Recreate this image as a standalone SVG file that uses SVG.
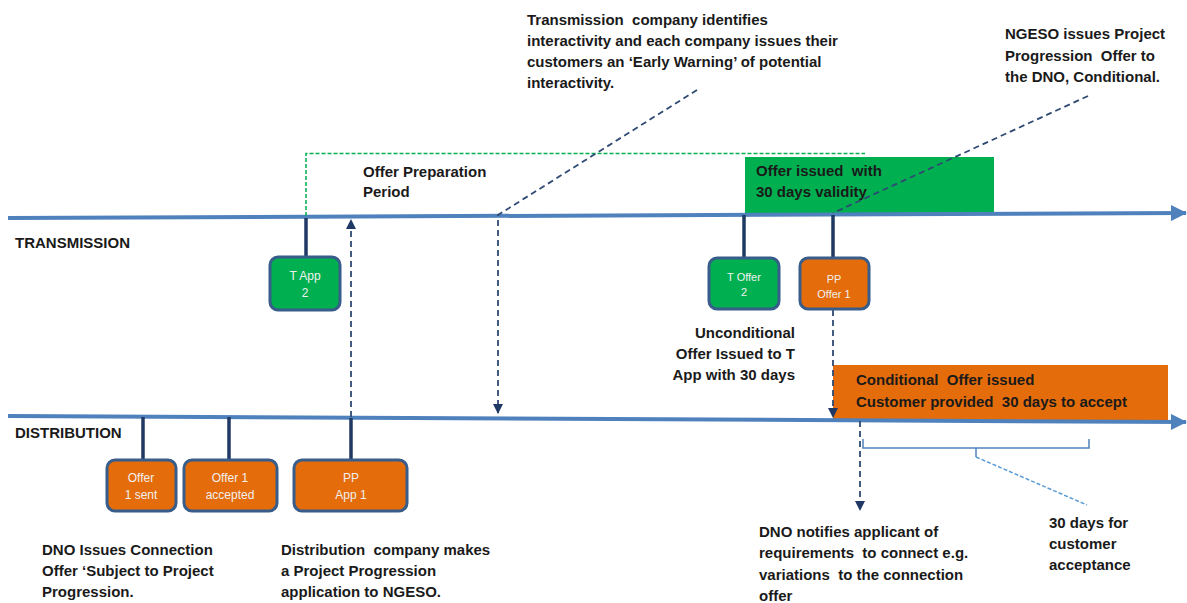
<svg xmlns="http://www.w3.org/2000/svg" width="1187" height="603" viewBox="0 0 1187 603">
<style>
.lbl{font-family:"Liberation Sans",Arial,sans-serif;font-weight:bold;font-size:15px;fill:#1a1a1a;white-space:pre}
.bx{font-family:"Liberation Sans",Arial,sans-serif;font-size:12px;fill:#f0f0f0;text-anchor:middle}
.sm{font-size:11px}
.g{fill:#00b050;stroke:#385d8a;stroke-width:3}
.o{fill:#e46c0a;stroke:#385d8a;stroke-width:3}
.stem{stroke:#1f3864;stroke-width:3.5;fill:none}
.dash{stroke:#2f4a72;stroke-width:1.8;stroke-dasharray:6 4;fill:none}
.axis{stroke:#4f81bd;stroke-width:4;fill:none}
</style>
<defs>
<marker id="ah" markerWidth="10" markerHeight="10" refX="9" refY="5" orient="auto" markerUnits="userSpaceOnUse">
<path d="M0,0 L10,5 L0,10 z" fill="#1f3864"/>
</marker>
<marker id="big" markerWidth="16" markerHeight="16" refX="15" refY="8" orient="auto" markerUnits="userSpaceOnUse">
<path d="M0,0 L16,8 L0,16 z" fill="#4f81bd"/>
</marker>
</defs>
<rect width="1187" height="603" fill="#ffffff"/>

<g id="bars">
<rect id="green-bar" x="745" y="157" width="249" height="56" fill="#00b050"/>
<rect id="orange-bar" x="833" y="365" width="335" height="55" fill="#e46c0a"/>
</g>

<g id="connectors">
<line class="axis" x1="8" y1="218" x2="1186" y2="213" marker-end="url(#big)"/>
<line class="axis" x1="8" y1="416" x2="1186" y2="422" marker-end="url(#big)"/>
<path d="M306,216 V153.5 H865" fill="none" stroke="#00b050" stroke-width="1.5" stroke-dasharray="4 2"/>
<path class="dash" d="M697,90 L498,215 V413" marker-end="url(#ah)"/>
<path class="dash" d="M351,417 V220" marker-end="url(#ah)"/>
<path class="dash" d="M1088,96 L833,213"/>
<path class="dash" d="M833,310 V417" marker-end="url(#ah)"/>
<path class="dash" d="M860,421 V510" marker-end="url(#ah)"/>
<path d="M863,439 V448 H1089 V439 M976,448 V457" fill="none" stroke="#4f81bd" stroke-width="1.5"/>
<path d="M976,457 L1087,505" fill="none" stroke="#5b9bd5" stroke-width="1.5" stroke-dasharray="4 2"/>
<line class="stem" x1="306" y1="218" x2="306" y2="257"/>
<line class="stem" x1="744" y1="215" x2="744" y2="258"/>
<line class="stem" x1="833" y1="215" x2="833" y2="258"/>
<line class="stem" x1="143" y1="417" x2="143" y2="460"/>
<line class="stem" x1="229" y1="417" x2="229" y2="460"/>
<line class="stem" x1="351" y1="418" x2="351" y2="460"/>
</g>

<g id="t-app-2">
<rect class="g" x="270" y="257" width="70" height="53" rx="8"/>
<text class="bx" x="305" y="280">T App</text>
<text class="bx" x="305" y="297">2</text>
</g>
<g id="t-offer-2">
<rect class="g" x="709" y="258" width="70" height="51" rx="8"/>
<text class="bx sm" x="744" y="281">T Offer</text>
<text class="bx sm" x="744" y="296">2</text>
</g>
<g id="pp-offer-1">
<rect class="o" x="800" y="258" width="69" height="51" rx="8"/>
<text class="bx sm" x="834" y="283">PP</text>
<text class="bx sm" x="834" y="298">Offer 1</text>
</g>
<g id="offer-1-sent">
<rect class="o" x="107" y="460" width="69" height="51" rx="8"/>
<text class="bx" x="141" y="482">Offer</text>
<text class="bx" x="141" y="499">1 sent</text>
</g>
<g id="offer-1-accepted">
<rect class="o" x="184" y="460" width="93" height="51" rx="8"/>
<text class="bx" x="230" y="482">Offer 1</text>
<text class="bx" x="230" y="499">accepted</text>
</g>
<g id="pp-app-1">
<rect class="o" x="294" y="460" width="113" height="51" rx="8"/>
<text class="bx" x="351" y="482">PP</text>
<text class="bx" x="351" y="499">App 1</text>
</g>

<g id="labels">
<text class="lbl" x="15" y="248">TRANSMISSION</text>
<text class="lbl" x="15" y="438">DISTRIBUTION</text>
<text class="lbl" x="363" y="177">Offer Preparation</text>
<text class="lbl" x="363" y="197">Period</text>
<text class="lbl" x="527" y="25">Transmission  company identifies</text>
<text class="lbl" x="527" y="46">interactivity and each company issues their</text>
<text class="lbl" x="527" y="67">customers an ‘Early Warning’ of potential</text>
<text class="lbl" x="527" y="88">interactivity.</text>
<text class="lbl" x="1005" y="39">NGESO issues Project</text>
<text class="lbl" x="1005" y="61">Progression  Offer to</text>
<text class="lbl" x="1005" y="82">the DNO, Conditional.</text>
<text class="lbl" x="756" y="176">Offer issued  with</text>
<text class="lbl" x="756" y="197">30 days validity</text>
<text class="lbl" x="795" y="338" text-anchor="end">Unconditional</text>
<text class="lbl" x="795" y="359" text-anchor="end">Offer Issued to T</text>
<text class="lbl" x="795" y="380" text-anchor="end">App with 30 days</text>
<text class="lbl" x="856" y="385">Conditional  Offer issued</text>
<text class="lbl" x="856" y="407">Customer provided  30 days to accept</text>
<text class="lbl" x="759" y="537">DNO notifies applicant of</text>
<text class="lbl" x="759" y="558">requirements  to connect e.g.</text>
<text class="lbl" x="759" y="580">variations  to the connection</text>
<text class="lbl" x="759" y="601">offer</text>
<text class="lbl" x="1049" y="528">30 days for</text>
<text class="lbl" x="1049" y="549">customer</text>
<text class="lbl" x="1049" y="570">acceptance</text>
<text class="lbl" x="42" y="555">DNO Issues Connection</text>
<text class="lbl" x="42" y="576">Offer ‘Subject to Project</text>
<text class="lbl" x="42" y="597">Progression.</text>
<text class="lbl" x="281" y="555">Distribution  company makes</text>
<text class="lbl" x="281" y="576">a Project Progression</text>
<text class="lbl" x="281" y="597">application to NGESO.</text>
</g>
</svg>
